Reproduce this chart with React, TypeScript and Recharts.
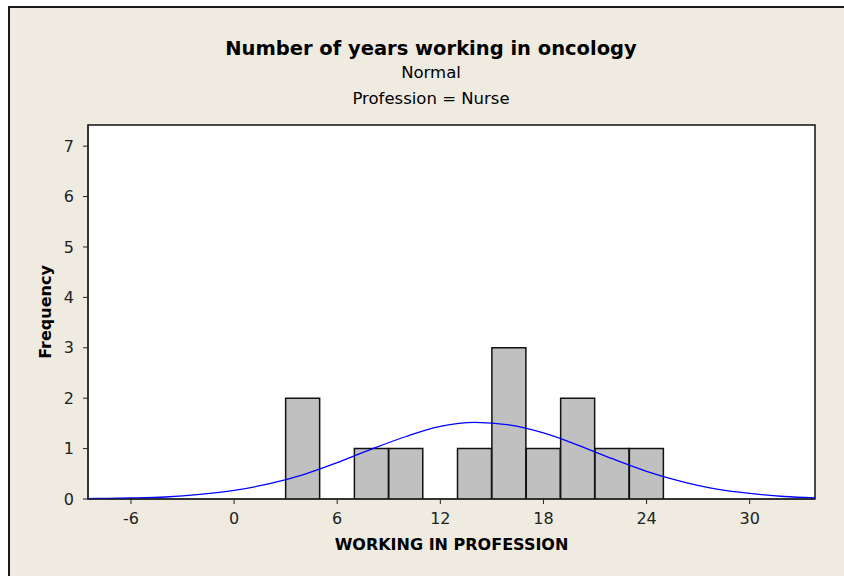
import {
  ComposedChart,
  Bar,
  Line,
  XAxis,
  YAxis,
  CartesianGrid,
  ReferenceArea,
} from "recharts";

// bin centers (width 2) and counts
const binCenters = [4, 8, 10, 14, 16, 18, 20, 22, 24];
const binCounts = [2, 1, 1, 1, 3, 1, 2, 1, 1];

// fitted normal curve, every 2 years
const curveX = [-10, -8, -6, -4, -2, 0, 2, 4, 6, 8, 10, 12, 14, 16, 18, 20, 22, 24, 26, 28, 30, 32, 34];
const curveY = [0.0, 0.01, 0.02, 0.04, 0.09, 0.17, 0.3, 0.48, 0.72, 0.99, 1.24, 1.44, 1.52, 1.47, 1.31, 1.07, 0.8, 0.55, 0.35, 0.2, 0.11, 0.05, 0.02];

const xTicks = [-6, 0, 6, 12, 18, 24, 30];
const yTicks = [0, 1, 2, 3, 4, 5, 6, 7];

const data = curveX.map((x, i) => {
  const b = binCenters.indexOf(x);
  return { x, curve: curveY[i], count: b >= 0 ? binCounts[b] : null };
});

const font = "'DejaVu Sans', Tahoma, sans-serif";
const bg = "#efebe1";

export default function App() {
  return (
    <div
      style={{
        position: "absolute",
        left: 0,
        top: 0,
        width: 844,
        height: 576,
        background: "#fff",
        fontFamily: font,
        overflow: "hidden",
      }}
    >
      <div
        style={{
          position: "absolute",
          left: 8,
          top: 6,
          width: 844,
          height: 576,
          background: bg,
          borderLeft: "2px solid #1a1a1a",
          borderTop: "2px solid #1a1a1a",
        }}
      />
      <div style={{ position: "absolute", left: 0, top: 37, width: 862, textAlign: "center", fontSize: 19.5, fontWeight: "bold", color: "#000" }}>
        Number of years working in oncology
      </div>
      <div style={{ position: "absolute", left: 0, top: 63, width: 862, textAlign: "center", fontSize: 16.5, color: "#000" }}>
        Normal
      </div>
      <div style={{ position: "absolute", left: 0, top: 89, width: 862, textAlign: "center", fontSize: 16.5, color: "#000" }}>
        Profession = Nurse
      </div>
      <div style={{ position: "absolute", left: 0, top: 0 }}>
        <ComposedChart
          width={844}
          height={576}
          data={data}
          margin={{ top: 125, right: 29, bottom: 47, left: 40 }}
          barCategoryGap={0}
          barGap={0}
        >
          <CartesianGrid horizontal={false} vertical={false} fill="#fff" />
          <XAxis
            dataKey="x"
            type="number"
            domain={[-8.5, 33.8]}
            allowDataOverflow
            ticks={xTicks}
            height={30}
            tickSize={5}
            tickMargin={9}
            stroke="#222"
            tick={{ fontSize: 16, fill: "#222", fontFamily: font }}
            label={{
              value: "WORKING IN PROFESSION",
              position: "bottom",
              offset: 10,
              style: { fontSize: 16, fontWeight: "bold", fill: "#000", fontFamily: font },
            }}
          />
          <YAxis
            type="number"
            domain={[0, 7.42]}
            allowDataOverflow
            ticks={yTicks}
            width={48}
            tickSize={5}
            tickMargin={9}
            stroke="#222"
            tick={{ fontSize: 16, fill: "#222", fontFamily: font }}
            label={{
              value: "Frequency",
              angle: -90,
              position: "insideLeft",
              offset: 5,
              style: { textAnchor: "middle", fontSize: 16, fontWeight: "bold", fill: "#000", fontFamily: font },
            }}
          />
          <Bar dataKey="count" fill="#c0c0c0" stroke="#111" strokeWidth={1.5} isAnimationActive={false} />
          <Line
            dataKey="curve"
            type="monotone"
            stroke="#0000ff"
            strokeWidth={1.3}
            dot={false}
            isAnimationActive={false}
          />
          <ReferenceArea x1={-8.5} x2={33.8} y1={0} y2={7.42} fill="none" stroke="#111" strokeWidth={1.5} />
        </ComposedChart>
      </div>
    </div>
  );
}
